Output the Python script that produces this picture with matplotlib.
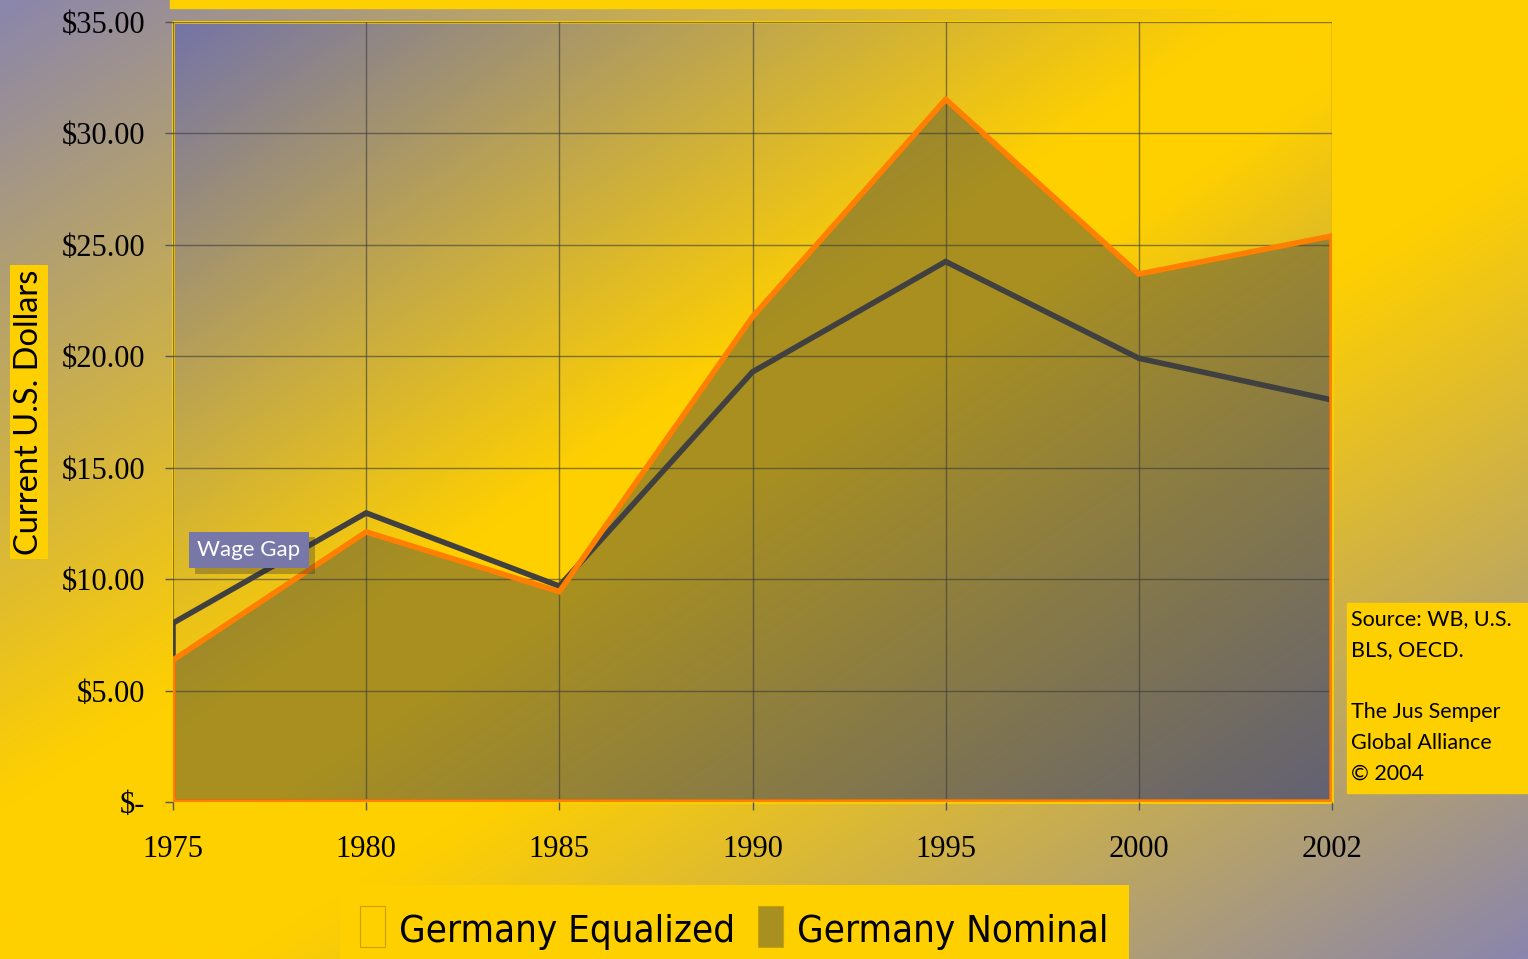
import numpy as np
import matplotlib
matplotlib.use("Agg")
import matplotlib.pyplot as plt
from matplotlib import font_manager
from matplotlib.colors import LinearSegmentedColormap
from matplotlib.patches import Rectangle, Patch
from matplotlib import patheffects as pe

# --- data ---
years = ["1975", "1980", "1985", "1990", "1995", "2000", "2002"]
nominal = [6.37, 12.12, 9.44, 21.77, 31.53, 23.69, 25.40]
equalized = [8.03, 12.97, 9.69, 19.30, 24.25, 19.91, 18.04]
y_ticks = [0, 5, 10, 15, 20, 25, 30, 35]
y_ticklabels = [r"\$-", r"\$5.00", r"\$10.00", r"\$15.00", r"\$20.00",
                r"\$25.00", r"\$30.00", r"\$35.00"]
series_names = ["Germany Equalized", "Germany Nominal"]

YELLOW = "#ffd000"
ORANGE = "#ff8000"
DARK = "#404040"
FILL = "#525040"
PURPLE_FIG = "#8a86ac"
PURPLE_AX = "#7474a8"

W, H = 1528, 959
fig = plt.figure(figsize=(W / 100, H / 100), dpi=100)


def narrow_font():
    """A condensed sans if one is installed, else None."""
    for f in font_manager.fontManager.ttflist:
        fn = f.fname.lower()
        if ("narrow" in fn or "condensed" in fn) and "bold" not in fn \
                and "italic" not in fn and "oblique" not in fn and "serif" not in fn:
            return font_manager.FontProperties(fname=f.fname)
    return None


def diag_gradient(c_end, c_mid, lo=0.44, hi=0.56, n=400):
    cmap = LinearSegmentedColormap.from_list(
        "g", [(0, c_end), (lo, c_mid), (hi, c_mid), (1, c_end)])
    u = np.linspace(0, 1, n)
    t = (u[None, :] + u[:, None]) / 2
    return cmap(t)


# figure background
bg = fig.add_axes([0, 0, 1, 1])
bg.imshow(diag_gradient(PURPLE_FIG, YELLOW, 0.42, 0.58), extent=(0, 1, 0, 1),
          aspect="auto", origin="upper")
bg.axis("off")
bg.add_patch(Rectangle((170 / W, 1 - 8 / H), 1, 8 / H, color=YELLOW))

# main axes
x = np.arange(len(years))
ax = fig.add_axes([173 / W, 1 - 802 / H, (1332 - 173) / W, (802 - 22) / H])
ax.set_facecolor("none")
ax.imshow(diag_gradient(PURPLE_AX, YELLOW, 0.46, 0.54), extent=(0, 6, 0, 35),
          aspect="auto", origin="upper", zorder=0)

poly_x = np.concatenate([[x[0]], x, [x[-1]]])
nom_y = np.concatenate([[0], nominal, [0]])
eq_y = np.concatenate([[0], equalized, [0]])

ax.fill(poly_x, nom_y, facecolor=FILL, alpha=0.5, edgecolor="none", zorder=1)
ax.grid(True, color="#3a3a3a", alpha=0.6, linewidth=1.0, zorder=2)
ax.set_axisbelow(False)
ax.fill(poly_x, eq_y, facecolor="none", edgecolor=DARK, linewidth=4,
        joinstyle="miter", zorder=3)
ax.fill(poly_x, nom_y, facecolor="none", edgecolor=ORANGE, linewidth=4,
        joinstyle="miter", zorder=4)

ax.set_xlim(0, 6)
ax.set_ylim(0, 35)
ax.set_xticks(x)
ax.set_xticklabels(years)
ax.set_yticks(y_ticks)
ax.set_yticklabels(y_ticklabels)
for s in ax.spines.values():
    s.set_color(YELLOW)
    s.set_linewidth(2)
ax.tick_params(axis="both", direction="out", length=6, width=1, color="#555555",
               labelsize=22, labelcolor="black")
ax.tick_params(axis="y", pad=14)
ax.tick_params(axis="x", pad=18)
for lab in ax.get_xticklabels() + ax.get_yticklabels():
    lab.set_fontfamily("Liberation Serif")

narrow = narrow_font()

# y label in yellow box
fig.text(29 / W, 1 - 412 / H, "Current U.S. Dollars", rotation=90,
         ha="center", va="center", fontsize=23.5, family="Lato", color="black",
         bbox=dict(boxstyle="square,pad=0.12", fc=YELLOW, ec="none"))

# wage gap callout
t = fig.text(249 / W, 1 - 550 / H, "Wage Gap", ha="center", va="center",
             fontsize=16, family="Lato", color="white", zorder=10,
             bbox=dict(boxstyle="square,pad=0.38", fc="#7878a8", ec="none"))
t.get_bbox_patch().set_path_effects(
    [pe.SimplePatchShadow(offset=(4, -4), alpha=0.3), pe.Normal()])

# source box
bg.add_patch(Rectangle((1347 / W, 1 - 793 / H), 1, 190 / H, color=YELLOW))
fig.text(1351 / W, 1 - 609 / H,
         "Source: WB, U.S.\nBLS, OECD.\n\nThe Jus Semper\nGlobal Alliance\n\u00a9 2004",
         ha="left", va="top", fontsize=15.5, family="Lato", color="black",
         linespacing=1.68)

# legend
handles = [Patch(facecolor="none", edgecolor="#c8a000", linewidth=0.8,
                 label=series_names[0]),
           Patch(facecolor="#a89020", edgecolor="#c8a000", linewidth=0.8,
                 label=series_names[1])]
leg_prop = narrow.copy() if narrow is not None else font_manager.FontProperties(family="DejaVu Sans")
leg_prop.set_size(33)
leg = fig.legend(handles=handles, loc="lower center", bbox_to_anchor=(734.5 / W, -0.012),
                 ncol=2, frameon=True, fancybox=False, framealpha=1,
                 facecolor=YELLOW, edgecolor="none", handlelength=0.55,
                 handleheight=1.0, handletextpad=0.3, columnspacing=0.5,
                 borderpad=0.45, borderaxespad=0, prop=leg_prop)

# fit legend text width to the reference (~336 px for the first entry)
fig.canvas.draw()
w0 = leg.get_texts()[0].get_window_extent().width
new_size = 33 * 336 / w0
for txt in leg.get_texts():
    txt.set_fontsize(new_size)

fig.savefig("out.png", dpi=100)
